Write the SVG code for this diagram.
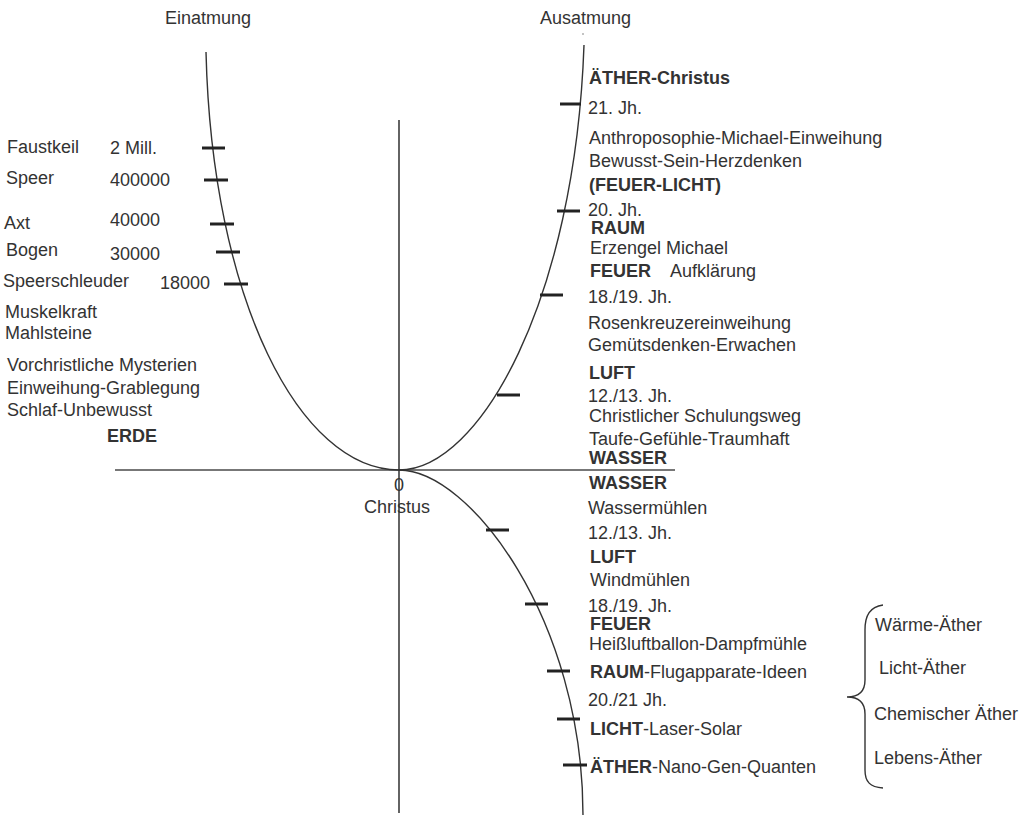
<svg xmlns="http://www.w3.org/2000/svg" width="1027" height="815" viewBox="0 0 1027 815">
<style>
text{font-family:"Liberation Sans",Arial,sans-serif;font-size:18px;fill:#333}
.b{font-weight:bold}
.curve{fill:none;stroke:#333;stroke-width:1.4}
.tick{stroke:#222;stroke-width:3}
.axis{stroke:#222;stroke-width:1.4}
.haxis{stroke:#777;stroke-width:2}
</style>
<rect width="1027" height="815" fill="#fff"/>
<g id="connectors">
<line class="haxis" x1="115" y1="470" x2="675" y2="470"/>
<line class="axis" x1="399" y1="120" x2="399" y2="813"/>
<path class="curve" d="M206 52 C212 300 300 470 399 470"/>
<path class="curve" d="M584 45 C575 300 480 470 399 470"/>
<path class="curve" d="M399 470 C470 470 583 620 583 815"/>
<g id="ticks">
<line class="tick" x1="202" y1="148" x2="225" y2="148"/>
<line class="tick" x1="204" y1="180" x2="228" y2="180"/>
<line class="tick" x1="210" y1="224" x2="234" y2="224"/>
<line class="tick" x1="216" y1="252" x2="240" y2="252"/>
<line class="tick" x1="224" y1="284" x2="248" y2="284"/>
<line class="tick" x1="560" y1="104" x2="581" y2="104"/>
<line class="tick" x1="557" y1="211" x2="580" y2="211"/>
<line class="tick" x1="540" y1="295" x2="563" y2="295"/>
<line class="tick" x1="497" y1="395" x2="520" y2="395"/>
<line class="tick" x1="486" y1="530" x2="509" y2="530"/>
<line class="tick" x1="525" y1="604" x2="548" y2="604"/>
<line class="tick" x1="547" y1="671" x2="570" y2="671"/>
<line class="tick" x1="557" y1="719" x2="580" y2="719"/>
<line class="tick" x1="563" y1="765" x2="587" y2="765"/>
</g>
<circle cx="583" cy="34" r="0.8" fill="#777"/>
</g>
<g id="headers">
<text x="165" y="24">Einatmung</text>
<text x="540" y="24">Ausatmung</text>
</g>
<g id="origin">
<text x="399" y="491" text-anchor="middle">0</text>
<text x="397" y="513" text-anchor="middle">Christus</text>
</g>
<g id="left-labels">
<text x="7" y="153">Faustkeil</text>
<text x="110" y="154">2 Mill.</text>
<text x="6" y="184">Speer</text>
<text x="110" y="186">400000</text>
<text x="4" y="229">Axt</text>
<text x="110" y="226">40000</text>
<text x="6" y="256">Bogen</text>
<text x="110" y="260">30000</text>
<text x="3" y="287">Speerschleuder</text>
<text x="160" y="289">18000</text>
<text x="5" y="318">Muskelkraft</text>
<text x="5" y="339">Mahlsteine</text>
<text x="7" y="371">Vorchristliche Mysterien</text>
<text x="7" y="394">Einweihung-Grablegung</text>
<text x="7" y="416">Schlaf-Unbewusst</text>
<text class="b" x="107" y="442">ERDE</text>
</g>
<g id="upper-right-labels">
<text class="b" x="589" y="84">ÄTHER-Christus</text>
<text x="588" y="114">21. Jh.</text>
<text x="589" y="144">Anthroposophie-Michael-Einweihung</text>
<text x="589" y="167">Bewusst-Sein-Herzdenken</text>
<text class="b" x="589" y="191">(FEUER-LICHT)</text>
<text x="588" y="216">20. Jh.</text>
<text class="b" x="591" y="234">RAUM</text>
<text x="590" y="254">Erzengel Michael</text>
<text class="b" x="590" y="277">FEUER</text>
<text x="670" y="277">Aufklärung</text>
<text x="588" y="303">18./19. Jh.</text>
<text x="588" y="329">Rosenkreuzereinweihung</text>
<text x="588" y="351">Gemütsdenken-Erwachen</text>
<text class="b" x="589" y="379">LUFT</text>
<text x="588" y="402">12./13. Jh.</text>
<text x="589" y="422">Christlicher Schulungsweg</text>
<text x="589" y="445">Taufe-Gefühle-Traumhaft</text>
<text class="b" x="589" y="464">WASSER</text>
</g>
<g id="lower-right-labels">
<text class="b" x="589" y="489">WASSER</text>
<text x="588" y="514">Wassermühlen</text>
<text x="588" y="539">12./13. Jh.</text>
<text class="b" x="590" y="563">LUFT</text>
<text x="590" y="586">Windmühlen</text>
<text x="588" y="612">18./19. Jh.</text>
<text class="b" x="590" y="630">FEUER</text>
<text x="589" y="650">Heißluftballon-Dampfmühle</text>
<text x="590" y="678"><tspan class="b">RAUM</tspan>-Flugapparate-Ideen</text>
<text x="588" y="706">20./21 Jh.</text>
<text x="590" y="735"><tspan class="b">LICHT</tspan>-Laser-Solar</text>
<text x="590" y="773"><tspan class="b">ÄTHER</tspan>-Nano-Gen-Quanten</text>
</g>
<g id="ether-brace">
<path class="curve" d="M883 605 C870 607 865 615 865 630 L865 680 C865 692 858 697 847 697 C858 697 865 702 865 714 L865 770 C865 782 870 787 883 788"/>
<text x="875" y="631">Wärme-Äther</text>
<text x="879" y="674">Licht-Äther</text>
<text x="874" y="720">Chemischer Äther</text>
<text x="874" y="764">Lebens-Äther</text>
</g>
</svg>
